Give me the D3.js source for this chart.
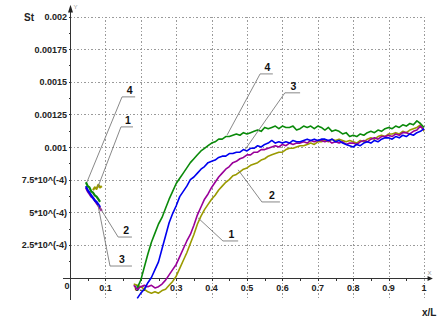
<!DOCTYPE html>
<html>
<head>
<meta charset="utf-8">
<script src="https://cdn.jsdelivr.net/npm/d3@7"></script>
<style>
  html, body { margin: 0; padding: 0; background: #fff; }
  svg { display: block; }
  text { font-family: "Liberation Sans", Arial, sans-serif; }
</style>
</head>
<body>
<svg id="chart" width="442" height="332"></svg>
<script>
// St along the channel, values in units of 1e-4
const xMain = d3.range(18, 101).map(i => i / 100);   // 0.18 … 1.00
const xShort = [0.045, 0.05, 0.055, 0.06, 0.065, 0.07, 0.075, 0.08, 0.085, 0.09];

const s1Main = [-0.5,-0.6,-0.7,-0.9,-1.1,-1.2,-1.1,-1.2,-1.0,-0.9,-0.6,-0.3,0.1,0.7,1.3,1.9,2.6,3.3,4.1,4.7,5.2,5.6,6.0,6.3,6.7,7.0,7.3,7.5,7.8,7.9,8.1,8.3,8.4,8.6,8.7,8.8,9.0,9.1,9.3,9.4,9.5,9.6,9.6,9.8,9.9,9.9,10.0,10.1,10.1,10.2,10.3,10.2,10.4,10.4,10.5,10.4,10.6,10.5,10.6,10.5,10.4,10.5,10.4,10.3,10.5,10.4,10.6,10.7,10.6,10.8,10.9,10.8,11.0,11.0,11.1,11.0,11.2,11.1,11.3,11.4,11.5,11.7,11.2];
const s2Main = [-0.6,-0.9,-0.7,-0.6,-0.7,-0.6,-0.8,-0.7,-0.5,-0.2,0.2,0.6,1.0,1.6,2.2,2.8,3.3,4.0,4.8,5.4,6.0,6.4,6.9,7.3,7.7,8.0,8.3,8.5,8.8,8.9,9.1,9.2,9.4,9.4,9.6,9.6,9.8,9.8,9.9,10.0,10.1,10.0,10.2,10.1,10.3,10.2,10.3,10.3,10.4,10.3,10.5,10.4,10.5,10.5,10.4,10.5,10.3,10.4,10.3,10.4,10.2,10.3,10.3,10.2,10.4,10.5,10.4,10.6,10.7,10.6,10.8,10.8,10.9,10.8,11.0,10.9,11.1,11.1,11.0,11.2,11.3,11.6,11.3];
const s3Main = [null,-1.6,-1.2,-0.9,-0.4,0.0,0.6,1.2,2.2,3.2,4.2,4.9,5.5,6.2,6.6,7.0,7.5,7.7,8.0,8.3,8.5,8.8,8.9,9.0,9.2,9.3,9.3,9.5,9.5,9.6,9.6,9.8,9.7,9.9,9.9,10.1,10.0,10.2,10.3,10.5,10.3,10.4,10.3,10.4,10.3,10.5,10.4,10.4,10.5,10.6,10.5,10.6,10.5,10.6,10.6,10.5,10.6,10.4,10.5,10.3,10.2,10.1,10.0,10.2,10.1,10.3,10.4,10.3,10.5,10.4,10.6,10.7,10.7,10.6,10.8,10.7,10.9,10.8,11.0,10.9,11.1,11.2,11.4];
const s4Main = [null,-0.8,-0.2,0.8,1.8,2.7,3.4,4.1,4.6,5.3,6.0,6.6,7.2,7.6,8.0,8.4,8.8,9.1,9.4,9.7,9.9,10.1,10.3,10.4,10.6,10.6,10.8,10.8,10.9,11.0,10.9,11.1,11.0,11.1,11.2,11.3,11.2,11.5,11.4,11.5,11.6,11.4,11.6,11.5,11.5,11.6,11.3,11.4,11.6,11.5,11.6,11.4,11.6,11.5,11.3,11.5,11.2,11.3,11.2,11.0,11.1,10.8,10.9,10.8,11.0,10.9,11.1,11.2,11.1,11.3,11.2,11.4,11.5,11.4,11.6,11.5,11.7,11.6,11.8,11.7,12.0,11.8,11.5];

const s1Short = [null,null,null,null,6.7,6.9,6.8,7.1,6.9,7.0];
const s2Short = [6.9,6.6,6.4,6.2,6.1,5.9,5.7,5.5,5.3,5.1];
const s3Short = [7.0,6.7,6.5,6.3,6.1,5.9,5.8,5.6,5.4,null];
const s4Short = [7.3,7.0,6.9,6.6,6.5,6.3,6.2,6.0,5.8,null];

const seriesNames = ["1", "2", "3", "4"];
const seriesColors = ["#9a9a00", "#990099", "#0000f0", "#0a8a0a"];

const xTicks = [0.1, 0.2, 0.3, 0.4, 0.5, 0.6, 0.7, 0.8, 0.9, 1];
const xTickLabels = ["0.1", "0.2", "0.3", "0.4", "0.5", "0.6", "0.7", "0.8", "0.9", "1"];
const yTicks = [2.5, 5, 7.5, 10, 12.5, 15, 17.5, 20];
const yTickLabels = ["2.5*10^(-4)", "5*10^(-4)", "7.5*10^(-4)", "0.001", "0.00125", "0.0015", "0.00175", "0.002"];

// curve labels: anchor on the curve, elbow of the leader, end of underline
const callouts = [
  { name: "4", ax: 0.048, ay: 7.32, ex: 0.147, ey: 13.84, tx: 0.184 },
  { name: "1", ax: 0.079, ay: 6.94, ex: 0.144, ey: 11.54, tx: 0.178 },
  { name: "2", ax: 0.085, ay: 5.33, ex: 0.136, ey: 3.10,  tx: 0.175 },
  { name: "3", ax: 0.079, ay: 5.56, ex: 0.113, ey: 0.88,  tx: 0.175 },
  { name: "4", ax: 0.444, ay: 10.93, ex: 0.537, ey: 15.60, tx: 0.573 },
  { name: "3", ax: 0.494, ay: 9.78,  ex: 0.607, ey: 14.15, tx: 0.650 },
  { name: "2", ax: 0.475, ay: 8.25,  ex: 0.542, ey: 5.79,  tx: 0.593 },
  { name: "1", ax: 0.362, ay: 4.56,  ex: 0.432, ey: 2.80,  tx: 0.475 }
];

const svg = d3.select("#chart");
const x = d3.scaleLinear().domain([0, 1]).range([70, 424]);
const y = d3.scaleLinear().domain([0, 20]).range([277.5, 16.5]);
const yBottom = -1.75;

// grid
const grid = svg.append("g").attr("stroke", "#9a9a9a").attr("stroke-width", 1)
  .attr("stroke-dasharray", "1.5,2").attr("shape-rendering", "crispEdges");
grid.selectAll("line.v").data(xTicks).join("line")
  .attr("x1", d => Math.round(x(d)) + 0.5).attr("x2", d => Math.round(x(d)) + 0.5)
  .attr("y1", y(20)).attr("y2", y(yBottom));
grid.selectAll("line.h").data(yTicks).join("line")
  .attr("x1", x(0)).attr("x2", x(1))
  .attr("y1", d => Math.round(y(d)) + 0.5).attr("y2", d => Math.round(y(d)) + 0.5);

// axes
const axes = svg.append("g").attr("stroke", "#333").attr("stroke-width", 1).attr("shape-rendering", "crispEdges");
const x0 = Math.round(x(0)) + 0.5, y0 = Math.round(y(0)) + 0.5;
axes.append("line").attr("x1", x(-0.02)).attr("x2", x(1.02)).attr("y1", y0).attr("y2", y0);
axes.append("line").attr("x1", x0).attr("x2", x0).attr("y1", y(yBottom)).attr("y2", y(20.6));
// minor / major ticks
const xMinor = d3.range(1, 20).map(i => i * 0.05);
axes.selectAll("line.xt").data(xMinor).join("line")
  .attr("x1", d => Math.round(x(d)) + 0.5).attr("x2", d => Math.round(x(d)) + 0.5)
  .attr("y1", y0).attr("y2", d => y0 + 2);
const yMinor = d3.range(1, 17).map(i => i * 1.25);
axes.selectAll("line.yt").data(yMinor).join("line")
  .attr("x1", x0 - 2).attr("x2", x0)
  .attr("y1", d => Math.round(y(d)) + 0.5).attr("y2", d => Math.round(y(d)) + 0.5);
// arrows
svg.append("path").attr("fill", "#222")
  .attr("d", `M${x0},${y(20.9)} L${x0 - 2.5},${y(20.3)} L${x0 + 2.5},${y(20.3)} Z`);
svg.append("path").attr("fill", "#222")
  .attr("d", `M${x(1.025)},${y0} L${x(1.01)},${y0 - 2.5} L${x(1.01)},${y0 + 2.5} Z`);
svg.append("text").attr("x", x0 + 3).attr("y", y(20.55)).attr("font-size", 6).attr("fill", "#999").text("Y");
svg.append("text").attr("x", x(1.01)).attr("y", y0 - 4).attr("font-size", 6).attr("fill", "#999").text("X");

// tick labels
svg.append("g").selectAll("text").data(xTicks).join("text")
  .attr("x", d => x(d)).attr("y", y0 + 12)
  .attr("text-anchor", "middle").attr("font-size", 9).attr("font-weight", "bold").attr("fill", "#222")
  .text((d, i) => xTickLabels[i]);
svg.append("text").attr("x", x(0) - 3).attr("y", y0 + 10).attr("text-anchor", "middle")
  .attr("font-size", 9).attr("font-weight", "bold").attr("fill", "#222").text("0");
svg.append("g").selectAll("text").data(yTicks).join("text")
  .attr("x", x(0) - 3).attr("y", d => y(d) + 3.5)
  .attr("text-anchor", "end").attr("font-size", 9).attr("font-weight", "bold").attr("fill", "#222")
  .text((d, i) => yTickLabels[i]);

// axis titles
svg.append("text").attr("x", 24).attr("y", 21).attr("font-size", 10).attr("font-weight", "bold").attr("fill", "#222").text("St");
svg.append("text").attr("x", 422).attr("y", 316).attr("font-size", 10).attr("font-weight", "bold").attr("fill", "#222").text("x/L");

// curves
const line = d3.line().defined(d => d[1] != null).x(d => x(d[0])).y(d => y(d[1]));
const mains = [s1Main, s2Main, s3Main, s4Main];
const shorts = [s1Short, s2Short, s3Short, s4Short];
const curves = svg.append("g").attr("fill", "none").attr("stroke-width", 1.6).attr("stroke-linejoin", "round");
mains.forEach((vals, i) => {
  curves.append("path").attr("stroke", seriesColors[i]).attr("d", line(xMain.map((v, k) => [v, vals[k]])));
});
shorts.forEach((vals, i) => {
  curves.append("path").attr("stroke", seriesColors[i]).attr("stroke-width", 2.2)
    .attr("d", line(xShort.map((v, k) => [v, vals[k]])));
});

// callouts
const co = svg.append("g");
callouts.forEach(c => {
  co.append("polyline").attr("fill", "none").attr("stroke", "#7a7a7a").attr("stroke-width", 0.9)
    .attr("points", `${x(c.ax)},${y(c.ay)} ${x(c.ex)},${y(c.ey)} ${x(c.tx)},${y(c.ey)}`);
  co.append("text").attr("x", (x(c.ex) + x(c.tx)) / 2 + 1).attr("y", y(c.ey) - 3)
    .attr("text-anchor", "middle").attr("font-size", 10.5).attr("font-weight", "bold").attr("fill", "#111")
    .text(c.name);
});
</script>
</body>
</html>
